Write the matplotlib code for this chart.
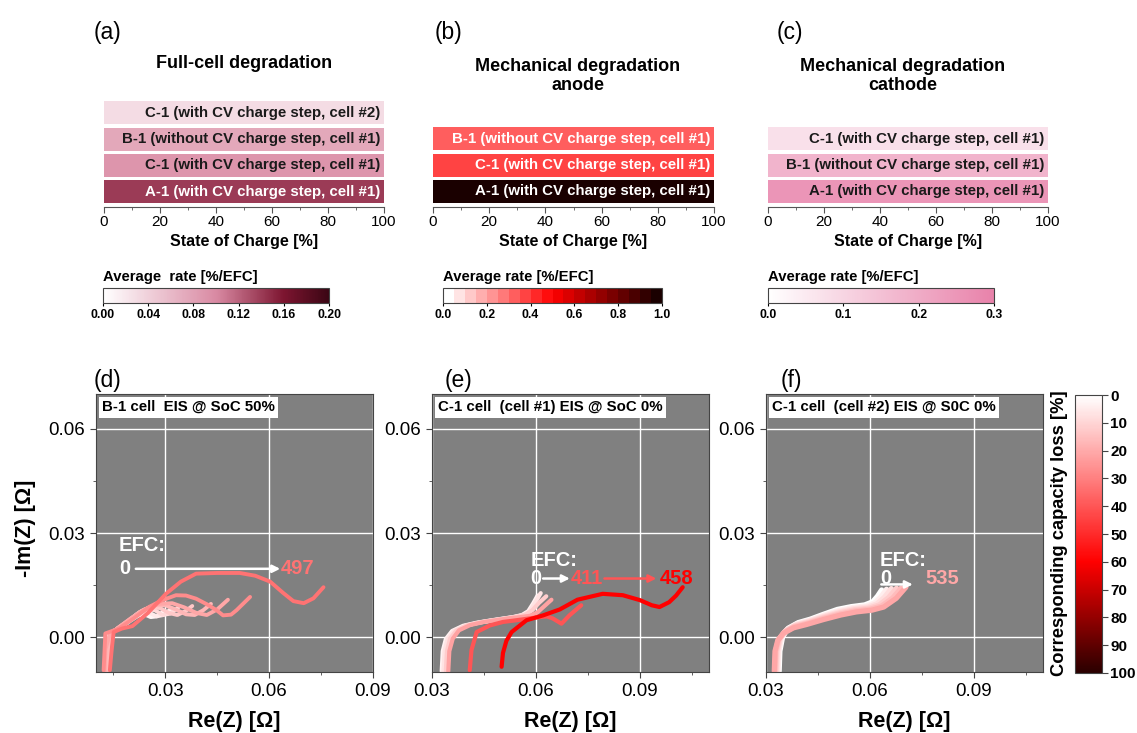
import numpy as np
import matplotlib
matplotlib.use('Agg')
import matplotlib.pyplot as plt
from matplotlib.colors import LinearSegmentedColormap, Normalize
import matplotlib.colorbar as mcolorbar
from matplotlib.ticker import FormatStrFormatter

plt.rcParams['font.family'] = ['Liberation Sans', 'DejaVu Sans']

# ---------------- data ----------------
full_labels = ["C-1 (with CV charge step, cell #2)", "B-1 (without CV charge step, cell #1)",
               "C-1 (with CV charge step, cell #1)", "A-1 (with CV charge step, cell #1)"]
full_rates = [0.03, 0.075, 0.09, 0.14]
anode_labels = ["B-1 (without CV charge step, cell #1)", "C-1 (with CV charge step, cell #1)",
                "A-1 (with CV charge step, cell #1)"]
anode_rates = [0.30, 0.36, 0.96]
cathode_labels = ["C-1 (with CV charge step, cell #1)", "B-1 (without CV charge step, cell #1)",
                  "A-1 (with CV charge step, cell #1)"]
cathode_rates = [0.075, 0.18, 0.255]
soc_ticks = [0, 20, 40, 60, 80, 100]

# panel (d): B-1 cell EIS @ SoC 50 %
d_loss = [2, 5, 9, 13, 17, 21, 27, 33]
d_x = [
    [0.0128, 0.0129, 0.0134, 0.0150, 0.0175, 0.0200, 0.0222, 0.0240, 0.0258, 0.0275, 0.0292],
    [0.0130, 0.0131, 0.0137, 0.0155, 0.0182, 0.0210, 0.0235, 0.0255, 0.0275, 0.0295, 0.0315],
    [0.0132, 0.0133, 0.0139, 0.0158, 0.0188, 0.0218, 0.0245, 0.0270, 0.0292, 0.0315, 0.0338],
    [0.0133, 0.0134, 0.0140, 0.0160, 0.0192, 0.0225, 0.0255, 0.0285, 0.0310, 0.0335, 0.0360, 0.0378],
    [0.0134, 0.0135, 0.0141, 0.0162, 0.0196, 0.0232, 0.0268, 0.0300, 0.0330, 0.0360, 0.0385, 0.0410, 0.0432],
    [0.0125, 0.0127, 0.0140, 0.0165, 0.0200, 0.0240, 0.0280, 0.0320, 0.0355, 0.0390, 0.0420, 0.0450, 0.0481],
    [0.0122, 0.0127, 0.0166, 0.0210, 0.0253, 0.0290, 0.0331, 0.0360, 0.0389, 0.0420, 0.0448, 0.0467, 0.0490, 0.0506, 0.0545],
    [0.0140, 0.0145, 0.0151, 0.0175, 0.0205, 0.0250, 0.0302, 0.0345, 0.0389, 0.0450, 0.0515, 0.0560, 0.0603, 0.0640, 0.0670, 0.0700, 0.0728, 0.0757],
]
d_y = [
    [-0.0098, -0.0035, 0.0004, 0.0018, 0.0030, 0.0048, 0.0062, 0.0066, 0.0058, 0.0060, 0.0072],
    [-0.0098, -0.0035, 0.0004, 0.0020, 0.0036, 0.0058, 0.0072, 0.0070, 0.0060, 0.0064, 0.0080],
    [-0.0098, -0.0035, 0.0005, 0.0022, 0.0042, 0.0066, 0.0080, 0.0078, 0.0064, 0.0068, 0.0086],
    [-0.0098, -0.0035, 0.0006, 0.0024, 0.0046, 0.0072, 0.0086, 0.0084, 0.0070, 0.0064, 0.0076, 0.0090],
    [-0.0098, -0.0035, 0.0006, 0.0026, 0.0050, 0.0076, 0.0092, 0.0092, 0.0080, 0.0066, 0.0064, 0.0078, 0.0096],
    [-0.0098, -0.0035, 0.0008, 0.0028, 0.0054, 0.0080, 0.0096, 0.0098, 0.0086, 0.0070, 0.0064, 0.0080, 0.0108],
    [-0.0095, 0.0011, 0.0025, 0.0055, 0.0087, 0.0106, 0.0121, 0.0120, 0.0111, 0.0095, 0.0078, 0.0063, 0.0065, 0.0078, 0.0116],
    [-0.0095, -0.0040, 0.0015, 0.0025, 0.0032, 0.0070, 0.0125, 0.0160, 0.0183, 0.0185, 0.0185, 0.0177, 0.0160, 0.0128, 0.0104, 0.0098, 0.0112, 0.0144],
]

# panel (e): C-1 cell (cell #1) EIS @ SoC 0 %
e_loss = [3, 7, 12, 22, 40, 60]
e_x = [
    [0.0328, 0.0331, 0.0340, 0.0358, 0.0390, 0.0430, 0.0467, 0.0500, 0.0534, 0.0560, 0.0578, 0.0592, 0.0605],
    [0.0333, 0.0336, 0.0345, 0.0363, 0.0395, 0.0435, 0.0472, 0.0505, 0.0538, 0.0565, 0.0583, 0.0598, 0.0614],
    [0.0340, 0.0343, 0.0352, 0.0370, 0.0400, 0.0440, 0.0477, 0.0510, 0.0542, 0.0570, 0.0590, 0.0608, 0.0630],
    [0.0347, 0.0350, 0.0360, 0.0378, 0.0410, 0.0450, 0.0490, 0.0525, 0.0555, 0.0585, 0.0605, 0.0625, 0.0645],
    [0.0409, 0.0414, 0.0429, 0.0467, 0.0505, 0.0544, 0.0580, 0.0611, 0.0632, 0.0649, 0.0674, 0.0697, 0.0731],
    [0.0501, 0.0505, 0.0515, 0.0530, 0.0573, 0.0621, 0.0669, 0.0720, 0.0793, 0.0851, 0.0900, 0.0935, 0.0957, 0.0985, 0.1005, 0.1024],
]
e_y = [
    [-0.0098, -0.0040, -0.0005, 0.0018, 0.0033, 0.0042, 0.0048, 0.0053, 0.0058, 0.0064, 0.0075, 0.0097, 0.0120],
    [-0.0098, -0.0040, -0.0005, 0.0018, 0.0033, 0.0042, 0.0048, 0.0053, 0.0058, 0.0064, 0.0076, 0.0100, 0.0127],
    [-0.0098, -0.0040, -0.0004, 0.0019, 0.0034, 0.0043, 0.0049, 0.0054, 0.0059, 0.0065, 0.0078, 0.0098, 0.0118],
    [-0.0098, -0.0040, -0.0004, 0.0020, 0.0035, 0.0044, 0.0050, 0.0055, 0.0058, 0.0062, 0.0072, 0.0090, 0.0108],
    [-0.0095, -0.0037, 0.0015, 0.0034, 0.0044, 0.0049, 0.0054, 0.0058, 0.0060, 0.0054, 0.0039, 0.0063, 0.0092],
    [-0.0085, -0.0045, -0.0010, 0.0015, 0.0049, 0.0063, 0.0080, 0.0108, 0.0125, 0.0121, 0.0107, 0.0092, 0.0087, 0.0101, 0.0120, 0.0144],
]

# panel (f): C-1 cell (cell #2) EIS @ SoC 0 %
f_loss = [0, 4, 8, 12, 16, 21]
f_x = [
    [0.0338, 0.0340, 0.0348, 0.0364, 0.0393, 0.0428, 0.0466, 0.0506, 0.0546, 0.0585, 0.0608, 0.0622, 0.0634],
    [0.0335, 0.0337, 0.0345, 0.0361, 0.0390, 0.0426, 0.0466, 0.0508, 0.0549, 0.0590, 0.0614, 0.0632, 0.0648],
    [0.0332, 0.0334, 0.0342, 0.0358, 0.0387, 0.0424, 0.0466, 0.0510, 0.0552, 0.0594, 0.0620, 0.0642, 0.0662],
    [0.0329, 0.0331, 0.0339, 0.0355, 0.0384, 0.0422, 0.0466, 0.0512, 0.0555, 0.0598, 0.0627, 0.0654, 0.0677],
    [0.0326, 0.0328, 0.0336, 0.0352, 0.0381, 0.0420, 0.0466, 0.0514, 0.0558, 0.0602, 0.0634, 0.0666, 0.0691],
    [0.0324, 0.0326, 0.0334, 0.0350, 0.0379, 0.0418, 0.0466, 0.0516, 0.0561, 0.0606, 0.0640, 0.0676, 0.0704],
]
f_y = [
    [-0.0098, -0.0040, 0.0001, 0.0026, 0.0042, 0.0052, 0.0066, 0.0080, 0.0088, 0.0093, 0.0102, 0.0118, 0.0136],
    [-0.0098, -0.0040, -0.0001, 0.0023, 0.0039, 0.0049, 0.0063, 0.0076, 0.0085, 0.0090, 0.0099, 0.0116, 0.0138],
    [-0.0098, -0.0040, -0.0003, 0.0020, 0.0036, 0.0046, 0.0060, 0.0073, 0.0082, 0.0087, 0.0096, 0.0115, 0.0140],
    [-0.0098, -0.0040, -0.0005, 0.0017, 0.0033, 0.0043, 0.0057, 0.0070, 0.0079, 0.0084, 0.0093, 0.0114, 0.0141],
    [-0.0098, -0.0040, -0.0007, 0.0014, 0.0030, 0.0040, 0.0054, 0.0067, 0.0076, 0.0081, 0.0090, 0.0113, 0.0142],
    [-0.0098, -0.0040, -0.0009, 0.0011, 0.0027, 0.0037, 0.0051, 0.0064, 0.0073, 0.0078, 0.0087, 0.0112, 0.0144],
]

loss_ticks = [0, 10, 20, 30, 40, 50, 60, 70, 80, 90, 100]

# ---------------- colormaps ----------------
cmap_full = LinearSegmentedColormap.from_list('full', [(0, '#ffffff'), (0.5, '#d98aa3'), (0.8, '#7d1530'), (1, '#3b0614')])
cmap_anode = LinearSegmentedColormap.from_list('anode', [(0, '#ffffff'), (0.5, '#ff0000'), (1, '#1a0000')], N=20)
cmap_cath = LinearSegmentedColormap.from_list('cath', [(0, '#ffffff'), (1, '#e882aa')])
cmap_loss = LinearSegmentedColormap.from_list('loss', [(0, '#ffffff'), (0.6, '#ff0000'), (1, '#2a0000')])
norm_loss = Normalize(0, 100)

W, H = 1137, 733
fig = plt.figure(figsize=(W / 100, H / 100), dpi=100)


def ax_px(x0, y0, x1, y1):
    return fig.add_axes([x0 / W, 1 - y1 / H, (x1 - x0) / W, (y1 - y0) / H])


def lum(c):
    return 0.2126 * c[0] + 0.7152 * c[1] + 0.0722 * c[2]


def bar_panel(x0, x1, top, labels, rates, cmap, vmax, cb_box, cb_ticks, cb_fmt, cb_title):
    ax = ax_px(x0, top, x1, 206.5)
    n = len(labels)
    norm = Normalize(0, vmax)
    ypos = np.arange(n)[::-1]
    cols = [cmap(norm(r)) for r in rates]
    ax.barh(ypos, [100] * n, left=0, height=0.88, color=cols)
    for yp, lab, c in zip(ypos, labels, cols):
        ax.text(98.8, yp, lab, ha='right', va='center', fontsize=10.8, fontweight='bold',
                color='white' if lum(c) < 0.6 else '#1a1a1a')
    ax.set_xlim(0, 100)
    ax.set_ylim(-0.57, n - 0.53)
    for s in ['top', 'right', 'left']:
        ax.spines[s].set_visible(False)
    ax.spines['bottom'].set_color('#555555')
    ax.set_yticks([])
    ax.set_xticks(soc_ticks)
    ax.set_xticks(range(10, 100, 20), minor=True)
    ax.tick_params(axis='x', which='major', length=4, labelsize=11, color='#555555', pad=2)
    ax.tick_params(axis='x', which='minor', length=2.5, color='#555555')
    ax.set_xlabel('State of Charge [%]', fontsize=11.5, fontweight='bold', labelpad=4)
    # colorbar
    cax = ax_px(*cb_box)
    cb = mcolorbar.ColorbarBase(cax, cmap=cmap, norm=norm, orientation='horizontal')
    cb.set_ticks(cb_ticks)
    cb.ax.set_xticklabels([cb_fmt % t for t in cb_ticks], fontsize=8.8, fontweight='bold')
    cb.ax.tick_params(length=2, pad=2)
    cb.outline.set_edgecolor('#444444')
    fig.text(cb_box[0] / W, 1 - 277 / H, cb_title, fontsize=10.7, fontweight='bold', va='center', ha='left')
    return ax


bar_panel(104, 384, 100.5, full_labels, full_rates, cmap_full, 0.2, (103, 288, 329, 303),
          [0, 0.04, 0.08, 0.12, 0.16, 0.20], '%.2f', 'Average  rate [%/EFC]')
bar_panel(433, 714, 126.5, anode_labels, anode_rates, cmap_anode, 1.0, (443, 288, 662, 303),
          [0, 0.2, 0.4, 0.6, 0.8, 1.0], '%.1f', 'Average rate [%/EFC]')
bar_panel(768, 1048, 126.5, cathode_labels, cathode_rates, cmap_cath, 0.3, (768, 288, 994, 303),
          [0, 0.1, 0.2, 0.3], '%.1f', 'Average rate [%/EFC]')

# titles and panel labels (top)
fig.text(244 / W, 1 - 63 / H, 'Full-cell degradation', ha='center', va='center', fontsize=13, fontweight='bold')
fig.text(578 / W, 1 - 76 / H, 'Mechanical degradation\nanode', ha='center', va='center', fontsize=13,
         fontweight='bold', linespacing=1.2)
fig.text(903 / W, 1 - 76 / H, 'Mechanical degradation\ncathode', ha='center', va='center', fontsize=13,
         fontweight='bold', linespacing=1.2)
for lab, xp in [('(a)', 94), ('(b)', 435), ('(c)', 777)]:
    fig.text(xp / W, 1 - 33 / H, lab, ha='left', va='center', fontsize=16.5)


# ---------------- EIS panels ----------------
def eis_panel(x0, x1, xlim, xminor, xs, ys, losses, box_text, lw):
    ax = ax_px(x0, 394, x1, 672)
    ax.set_facecolor('#808080')
    ax.set_xlim(*xlim)
    ax.set_ylim(-0.01, 0.07)
    ax.set_xticks([0.03, 0.06, 0.09])
    ax.set_xticks(xminor, minor=True)
    ax.set_yticks([0.0, 0.03, 0.06])
    ax.set_yticks([0.015, 0.045], minor=True)
    ax.xaxis.set_major_formatter(FormatStrFormatter('%.2f'))
    ax.yaxis.set_major_formatter(FormatStrFormatter('%.2f'))
    ax.grid(True, which='major', color='white', lw=1)
    ax.set_axisbelow(True)
    ax.tick_params(which='major', length=4, labelsize=13.5, color='#444444', pad=4)
    ax.tick_params(which='minor', length=2.5, color='#444444')
    for s in ax.spines.values():
        s.set_color('#444444')
    for xx, yy, ls in zip(xs, ys, losses):
        ax.plot(xx, yy, color=cmap_loss(norm_loss(ls)), lw=lw, solid_capstyle='round',
                solid_joinstyle='round', zorder=2 + ls / 100)
    ax.text(0.022, 0.978, box_text, transform=ax.transAxes, ha='left', va='top', fontsize=10.8,
            fontweight='bold', bbox=dict(facecolor='white', edgecolor='none', pad=2.5), zorder=5)
    fig.text((x0 + x1) / 2 / W, 1 - 722 / H, 'Re(Z) [Ω]', ha='center', va='center', fontsize=15.5,
             fontweight='bold')
    return ax


def arrow(ax, x0, x1, y, color):
    ax.annotate('', xy=(x1, y), xytext=(x0, y),
                arrowprops=dict(arrowstyle='-|>', color=color, lw=1.8, mutation_scale=11,
                                shrinkA=0, shrinkB=0), zorder=6)


tk = dict(fontsize=14.5, fontweight='bold', va='center', ha='left', zorder=6)

axd = eis_panel(96, 373, (0.01, 0.09), [0.015, 0.045, 0.075], d_x, d_y, d_loss, 'B-1 cell  EIS @ SoC 50%', 2.8)
axd.text(0.0166, 0.0263, 'EFC:', color='white', **tk)
axd.text(0.0166, 0.0197, '0', color='white', **tk)
arrow(axd, 0.0215, 0.0632, 0.0197, 'white')
axd.text(0.0634, 0.0197, '497', color=cmap_loss(norm_loss(d_loss[-1])), **tk)

axe = eis_panel(432, 709, (0.03, 0.11), [0.045, 0.075, 0.105], e_x, e_y, e_loss,
                'C-1 cell  (cell #1) EIS @ SoC 0%', 3.0)
axe.text(0.0586, 0.0221, 'EFC:', color='white', **tk)
axe.text(0.0585, 0.0169, '0', color='white', **tk)
arrow(axe, 0.0621, 0.0698, 0.0169, 'white')
axe.text(0.0702, 0.0169, '411', color=cmap_loss(norm_loss(e_loss[-2])), **tk)
arrow(axe, 0.0798, 0.0948, 0.0169, cmap_loss(norm_loss(e_loss[-2])))
axe.text(0.0957, 0.0169, '458', color=cmap_loss(norm_loss(e_loss[-1])), **tk)

axf = eis_panel(766, 1043, (0.03, 0.11), [0.045, 0.075, 0.105], f_x, f_y, f_loss,
                'C-1 cell  (cell #2) EIS @ S0C 0%', 3.8)
axf.text(0.0629, 0.0221, 'EFC:', color='white', **tk)
axf.text(0.0629, 0.0169, '0', color='white', **tk)
arrow(axf, 0.0633, 0.0724, 0.0152, 'white')
axf.text(0.0759, 0.0169, '535', color=cmap_loss(norm_loss(f_loss[-1])), **tk)

fig.text(25 / W, 1 - 528 / H, '-Im(Z) [Ω]', rotation=90, ha='center', va='center', fontsize=15.5,
         fontweight='bold')
for lab, xp in [('(d)', 94), ('(e)', 445), ('(f)', 781)]:
    fig.text(xp / W, 1 - 381 / H, lab, ha='left', va='center', fontsize=16.5)

# capacity-loss colorbar
cax = ax_px(1075, 395, 1102, 673)
cb = mcolorbar.ColorbarBase(cax, cmap=cmap_loss, norm=norm_loss, orientation='vertical')
cb.set_ticks(loss_ticks)
cb.ax.set_yticklabels([str(t) for t in loss_ticks], fontsize=11, fontweight='bold')
cb.ax.invert_yaxis()
cb.ax.tick_params(length=4, pad=2, color='#444444')
cb.outline.set_edgecolor('#444444')
fig.text(1060 / W, 1 - 533 / H, 'Corresponding capacity loss [%]', rotation=90, ha='center', va='center',
         fontsize=13.2, fontweight='bold')

fig.savefig('out.png', dpi=100)
